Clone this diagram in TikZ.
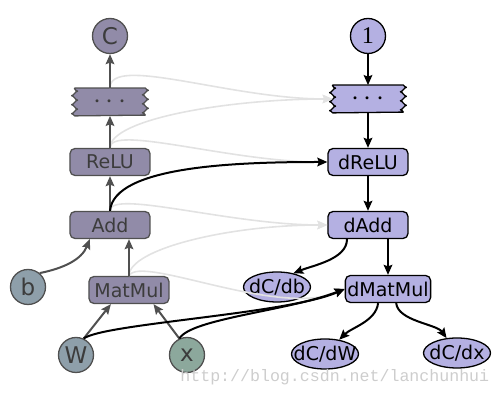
\documentclass[tikz,border=0pt]{standalone}
\usepackage{fontspec}
\setmainfont{DejaVu Sans}
\newfontfamily\onefont{Liberation Serif}
\newfontfamily\wmfont{Liberation Mono}
\usepackage{tikz}
\usetikzlibrary{shapes.geometric,arrows.meta,backgrounds}
\definecolor{fwdfill}{RGB}{145,139,168}
\definecolor{fwdline}{RGB}{ 80, 80, 80}
\definecolor{fwdtext}{RGB}{ 60, 60, 60}
\definecolor{parfill}{RGB}{142,159,170}
\definecolor{inpfill}{RGB}{140,168,156}
\definecolor{bwdfill}{RGB}{180,176,226}
\definecolor{ghost}  {RGB}{226,226,226}
\definecolor{wmgray} {RGB}{205,205,205}
\tikzset{
  fwd/.style  ={rectangle,draw=fwdline,fill=fwdfill,text=fwdtext,
                 rounded corners=2.5pt,line width=0.65pt,
                 minimum width=40pt,minimum height=13.5pt,inner sep=1pt,
                 font=\fontsize{9.5}{11}\selectfont},
  fwdc/.style ={circle,draw=fwdline,fill=fwdfill,text=fwdtext,
                 line width=0.65pt,minimum size=17.5pt,inner sep=0pt,
                 font=\fontsize{11.5}{13}\selectfont},
  tapen/.style={rectangle,minimum width=35pt,minimum height=13.5pt,
                 inner sep=0pt,font=\fontsize{14}{14}\selectfont},
  bwd/.style  ={fwd,draw=black,fill=bwdfill,text=black},
  bwdc/.style ={fwdc,draw=black,fill=bwdfill,text=black},
  bwde/.style ={ellipse,draw=black,fill=bwdfill,line width=0.65pt,
                 minimum width=33.5pt,minimum height=15pt,
                 inner xsep=-4pt,inner ysep=0pt,
                 font=\fontsize{9.5}{10}\selectfont},
  sig/.style  ={-{Stealth[length=5pt,width=4.3pt,inset=0.8pt]},line width=1pt},
  sigf/.style ={sig,draw=fwdline},
  sigb/.style ={sig,draw=black},
  sigg/.style ={sig,line width=0.8pt,draw=ghost},
}
% tape outline with wavy left and right sides (units: px)
\newcommand{\tapebg}[3]{%
  \begin{scope}[on background layer]
    \filldraw[fill=#2,draw=#3,line width=0.65pt,line join=round]
      (#1.north west) -- (#1.north east)
      sin ++(3,2.25) cos ++(-3,2.25) sin ++(-3,2.25) cos ++(3,2.25)
      sin ++(3,2.25) cos ++(-3,2.25) sin ++(-3,2.25) cos ++(3,2.25)
      sin ++(3,2.25) cos ++(-3,2.25) sin ++(-3,2.25) cos ++(3,2.25)
      -- (#1.south west)
      sin ++(-3,-2.25) cos ++(3,-2.25) sin ++(3,-2.25) cos ++(-3,-2.25)
      sin ++(-3,-2.25) cos ++(3,-2.25) sin ++(3,-2.25) cos ++(-3,-2.25)
      sin ++(-3,-2.25) cos ++(3,-2.25) sin ++(3,-2.25) cos ++(-3,-2.25)
      -- cycle;
  \end{scope}}

\begin{document}
\begin{tikzpicture}[x=0.5pt,y=-0.5pt]
  \useasboundingbox (0,0) rectangle (500,400);
  % forward graph
  \node[fwdc]                 (C)      at (110,36)  {C};
  \node[tapen,text=fwdtext]   (dotsL)  at (110,102) {$\cdots$};
  \tapebg{dotsL}{fwdfill}{fwdline}
  \node[fwd]                  (ReLU)   at (110,162) {ReLU};
  \node[fwd]                  (Add)    at (110,225) {Add};
  \node[fwdc,fill=parfill]    (b)      at (28,287)  {b};
  \node[fwd]                  (MatMul) at (129,290) {MatMul};
  \node[fwdc,fill=parfill]    (W)      at (76,355)  {W};
  \node[fwdc,fill=inpfill]    (x)      at (187,355) {x};
  % backward graph
  \node[bwdc,font=\onefont\fontsize{12}{13}\selectfont]
                              (one)    at (368,36)  {1};
  \node[tapen]                (dotsR)  at (368,99)  {$\cdots$};
  \tapebg{dotsR}{bwdfill}{black}
  \node[bwd]                  (dReLU)  at (368,162) {dReLU};
  \node[bwd]                  (dAdd)   at (368,225) {dAdd};
  \node[bwde]                 (dCdb)   at (277,287) {dC/db};
  \node[bwd]                  (dMatMul)at (388,289) {dMatMul};
  \node[bwde]                 (dCdW)   at (325,354) {dC/dW};
  \node[bwde]                 (dCdx)   at (457,353) {dC/dx};
  \node[anchor=base west,inner sep=0pt,text=wmgray,
        font=\wmfont\fontsize{8.3}{9}\selectfont]
                              (wm)     at (180,382) {http://blog.csdn.net/lanchunhui};
  % ghost edges
  \draw[sigg](dotsL.north)  .. controls +(0,-34) and +(-103,0) .. (dotsR.west);
  \draw[sigg](ReLU.north)   .. controls +(0,-29) and +(-103,0) .. (dotsR.west);
  \draw[sigg](ReLU.north)   .. controls +(0,-24) and +(-97,0)  .. (dReLU.west);
  \draw[sigg](Add.north)    .. controls +(0,-22) and +(-98,0)  .. (dAdd.west);
  \draw[sigg](MatMul.north) .. controls +(0,-27) and +(-98,0)  .. (dAdd.west);
  \draw[sigg](MatMul.north) .. controls +(11,-22) and +(-67,29) .. (dMatMul.west);
  % forward edges
  \draw[sigf](dotsL.north) -- (C.south);
  \draw[sigf](ReLU.north)  -- (dotsL.south);
  \draw[sigf](Add.north)   -- (ReLU.south);
  \draw[sigf](MatMul.north) -- (MatMul.north |- Add.south);
  \draw[sigf](b.50) .. controls +(25,-5) and +(-8,20) .. (Add.215);
  \draw[sigf](W.65) -- (MatMul.218);
  \draw[sigf](x.115) -- (MatMul.330);
  % backward edges
  \draw[sigb](one)   -- (dotsR);
  \draw[sigb](dotsR) -- (dReLU);
  \draw[sigb](dReLU) -- (dAdd);
  \draw[sigb](dMatMul.north |- dAdd.south) -- (dMatMul.north);
  \draw[sigb](dAdd.214) .. controls +(0,20) and +(20,-8) .. (dCdb.40);
  \draw[sigb](dMatMul.235) .. controls +(-2,18) and +(12,-12) .. (dCdW.45);
  \draw[sigb](dMatMul.300) .. controls +(2,18) and +(-10,-14) .. (dCdx.125);
  \draw[sigb](Add.north) .. controls +(4,-45) and +(-90,0) .. (dReLU.west);
  \draw[sigb](W.65) .. controls +(20,-15) and +(-57,25) .. (dMatMul.west);
  \draw[sigb](x.115) .. controls +(12,-20) and +(-57,22) .. (dMatMul.west);
\end{tikzpicture}
\end{document}
